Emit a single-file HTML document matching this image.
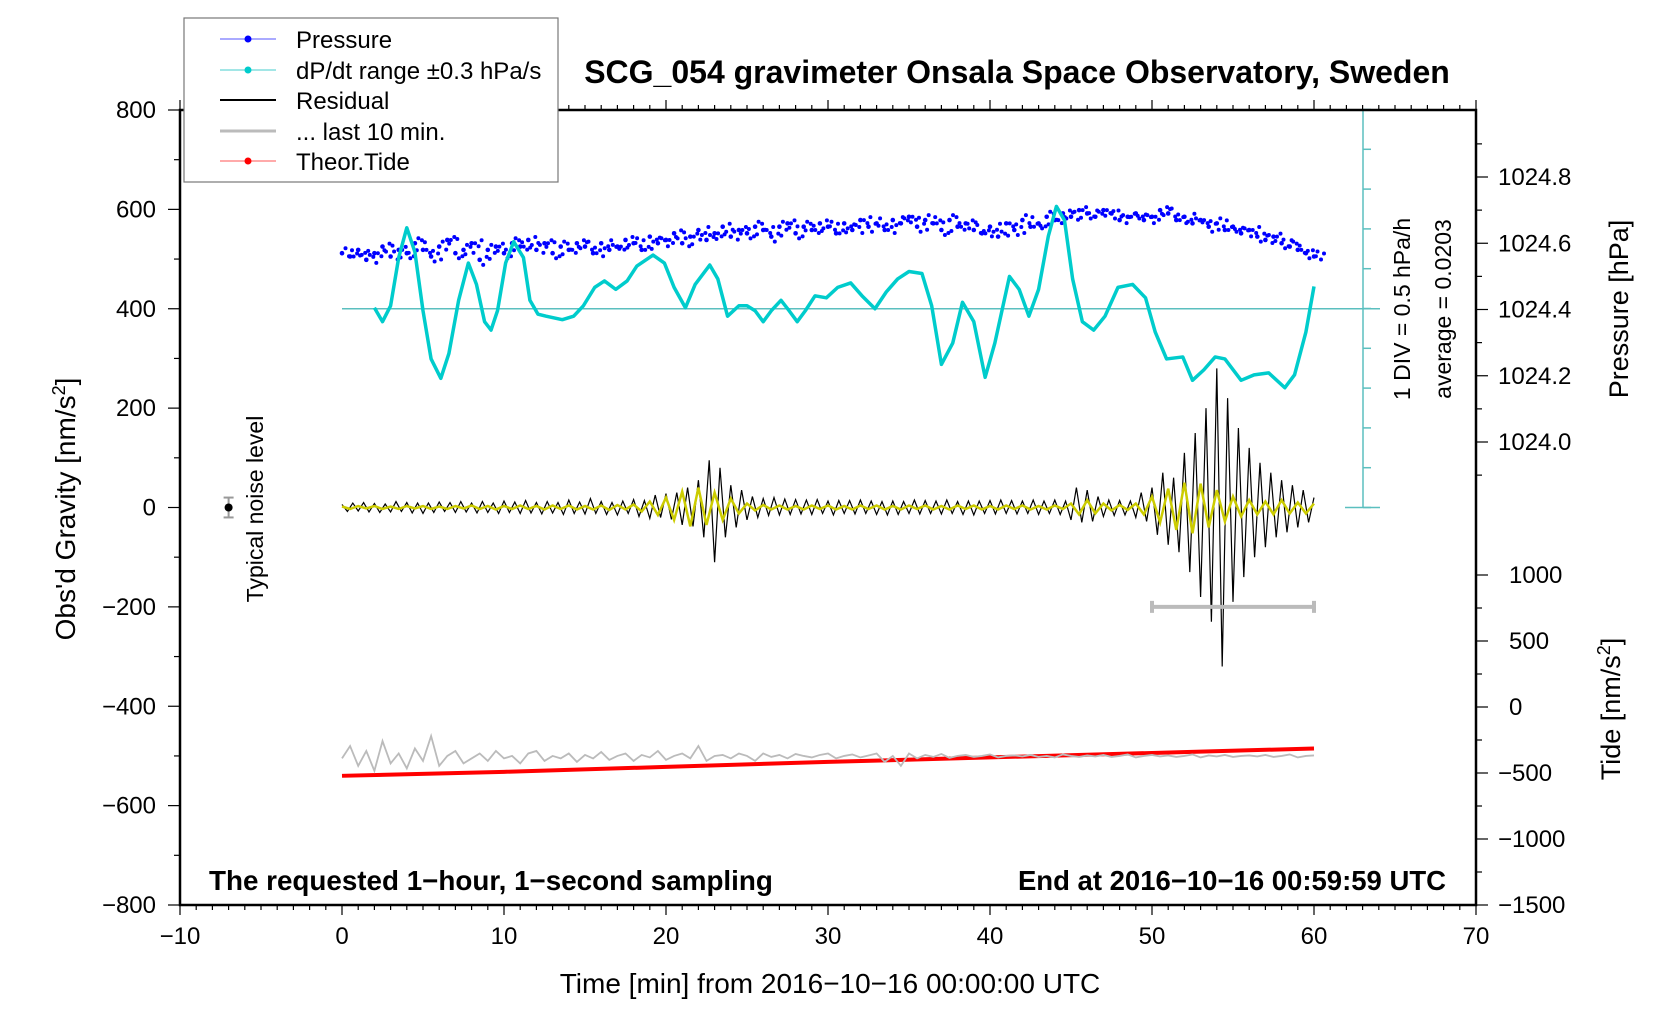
<!DOCTYPE html>
<html><head><meta charset="utf-8">
<style>
html,body{margin:0;padding:0;background:#fff;}
svg{display:block;font-family:"Liberation Sans",sans-serif;}
</style></head>
<body>
<svg id="chart" width="1676" height="1020" viewBox="0 0 1676 1020" xmlns="http://www.w3.org/2000/svg">
<rect x="0" y="0" width="1676" height="1020" fill="#fff"/>
<g id="marks"></g>
<g id="axes"></g>
<text x="1017" y="83" font-size="32" font-weight="bold" text-anchor="middle">SCG_054 gravimeter Onsala Space Observatory, Sweden</text>
<text x="209" y="890" font-size="27.8" font-weight="bold">The requested 1−hour, 1−second sampling</text>
<text x="1446" y="890" font-size="27.5" font-weight="bold" text-anchor="end">End at 2016−10−16 00:59:59 UTC</text>
<text x="830" y="993" font-size="28" text-anchor="middle">Time [min] from 2016−10−16 00:00:00 UTC</text>
<text transform="translate(75,509) rotate(-90)" font-size="28" text-anchor="middle">Obs'd Gravity [nm/s<tspan baseline-shift="super" font-size="18">2</tspan>]</text>
<text transform="translate(1628,309) rotate(-90)" font-size="27" text-anchor="middle">Pressure [hPa]</text>
<text transform="translate(1620,709) rotate(-90)" font-size="27" text-anchor="middle">Tide [nm/s<tspan baseline-shift="super" font-size="18">2</tspan>]</text>
<text transform="translate(1410,309) rotate(-90)" font-size="23" text-anchor="middle">1 DIV = 0.5 hPa/h</text>
<text transform="translate(1451,309) rotate(-90)" font-size="23" text-anchor="middle">average = 0.0203</text>
<text transform="translate(263,509) rotate(-90)" font-size="23" text-anchor="middle">Typical noise level</text>
<g>
<rect x="184" y="18" width="374" height="164" fill="#fff" stroke="#777" stroke-width="1.2"/>
<g><line x1="220" y1="39" x2="276" y2="39" stroke="#55f" stroke-width="1"/><circle cx="248" cy="39" r="3.5" fill="#00f"/><text x="296" y="48" font-size="24">Pressure</text></g>
<g><line x1="220" y1="70" x2="276" y2="70" stroke="#4cc" stroke-width="1"/><circle cx="248" cy="70" r="3.5" fill="#0cc"/><text x="296" y="79" font-size="24">dP/dt range ±0.3 hPa/s</text></g>
<g><line x1="220" y1="100" x2="276" y2="100" stroke="#000" stroke-width="2"/><text x="296" y="109" font-size="24">Residual</text></g>
<g><line x1="220" y1="131" x2="276" y2="131" stroke="#bbb" stroke-width="3"/><text x="296" y="140" font-size="24">... last 10 min.</text></g>
<g><line x1="220" y1="161" x2="276" y2="161" stroke="#f55" stroke-width="1"/><circle cx="248" cy="161" r="3.5" fill="#f00"/><text x="296" y="170" font-size="24">Theor.Tide</text></g>
</g>
</svg>
<script>
// ---- data ----
const xTicks = [-10,0,10,20,30,40,50,60,70];
const yTicks = [800,600,400,200,0,-200,-400,-600,-800];
const pTicks = [1024.0,1024.2,1024.4,1024.6,1024.8];
const tideTicks = [1000,500,0,-500,-1000,-1500];
// dP/dt curve (minutes, nm/s^2 plot units)
const dpTime = [2.0,2.5,3.0,3.5,4.0,4.5,5.0,5.5,6.1,6.6,7.2,7.8,8.3,8.8,9.2,9.6,10.1,10.6,11.2,11.6,12.1,12.6,13.6,14.3,14.9,15.6,16.2,16.9,17.6,18.2,19.2,19.9,20.5,21.2,21.8,22.7,23.2,23.8,24.5,25.0,25.5,26.0,26.5,27.1,27.6,28.1,28.6,29.2,29.9,30.6,31.4,32.1,32.9,33.6,34.3,35.0,35.8,36.4,37.0,37.7,38.3,39.0,39.7,40.3,41.2,41.8,42.4,43.0,43.6,44.1,44.6,45.1,45.7,46.4,47.1,47.9,48.8,49.6,50.2,50.9,51.9,52.5,53.2,53.9,54.5,55.5,56.3,57.2,58.2,58.8,59.5,60.0];
const dpVal = [402,374,406,503,563,514,396,299,260,310,417,492,449,374,357,396,492,535,503,417,389,385,378,385,406,443,456,439,456,486,508,492,443,402,449,488,460,385,406,406,396,374,396,417,396,374,396,426,422,443,452,426,400,434,460,475,471,406,288,331,413,374,262,331,465,439,385,439,546,606,578,460,374,357,385,443,449,422,353,299,303,256,277,303,299,256,267,271,241,267,353,445];
// pressure every 30 s (hPa)
const pressure = [1024.57,1024.56,1024.58,1024.55,1024.57,1024.59,1024.56,1024.58,1024.57,1024.60,1024.58,1024.56,1024.59,1024.61,1024.57,1024.58,1024.60,1024.55,1024.58,1024.59,1024.57,1024.60,1024.59,1024.61,1024.58,1024.60,1024.57,1024.59,1024.58,1024.60,1024.59,1024.57,1024.60,1024.58,1024.59,1024.61,1024.60,1024.58,1024.62,1024.60,1024.61,1024.63,1024.60,1024.62,1024.64,1024.61,1024.63,1024.65,1024.62,1024.64,1024.63,1024.65,1024.64,1024.62,1024.65,1024.66,1024.63,1024.65,1024.64,1024.66,1024.65,1024.63,1024.66,1024.64,1024.67,1024.65,1024.66,1024.64,1024.67,1024.66,1024.68,1024.65,1024.67,1024.66,1024.64,1024.67,1024.65,1024.66,1024.64,1024.63,1024.65,1024.62,1024.66,1024.64,1024.67,1024.65,1024.66,1024.68,1024.67,1024.69,1024.68,1024.70,1024.69,1024.68,1024.70,1024.69,1024.67,1024.68,1024.69,1024.67,1024.68,1024.70,1024.69,1024.67,1024.68,1024.66,1024.67,1024.65,1024.66,1024.64,1024.65,1024.63,1024.64,1024.62,1024.61,1024.62,1024.60,1024.59,1024.58,1024.57,1024.56];
// residual every 20 s (nm/s^2)
const residual = [6,-8,9,-7,10,-9,8,-10,7,-9,12,-8,10,-11,9,-12,9,-10,11,-8,10,-10,12,-9,9,-11,12,-10,9,-12,13,-10,11,-12,14,-11,10,-13,12,-11,10,-14,15,-12,11,-13,18,-12,12,-14,10,-15,13,-12,16,-18,14,-22,25,-20,28,-24,30,-35,40,-38,55,-60,95,-110,80,-60,45,-40,35,-25,22,-20,18,-16,20,-15,17,-14,16,-13,15,-14,16,-12,13,-15,14,-12,14,-13,15,-12,13,-14,12,-15,13,-14,12,-12,15,-13,14,-12,13,-13,15,-12,12,-14,13,-15,13,-12,14,-13,15,-12,14,-13,13,-12,15,-14,13,-12,15,-14,13,-25,40,-30,35,-28,22,-18,15,-16,14,-15,13,-20,30,-28,40,-55,70,-75,60,-90,110,-130,150,-180,200,-230,280,-320,220,-190,160,-140,120,-100,90,-80,70,-60,55,-50,45,-40,35,-30,20];
// smoothed residual every 30 s
const smooth = [2,-3,3,-2,3,-3,2,-3,3,-2,3,-3,2,-3,3,-2,4,-3,3,-4,3,-3,4,-3,3,-4,4,-3,4,-4,3,-4,4,-5,5,-4,6,-8,12,-15,20,-25,32,-38,40,-35,30,-25,18,-12,8,-6,5,-4,4,-4,3,-4,4,-3,4,-4,3,-4,4,-3,4,-4,3,-4,4,-3,4,-4,3,-4,4,-3,4,-4,3,-4,4,-3,4,-4,3,-4,4,-3,8,-14,15,-12,8,-6,5,-5,8,-14,22,-30,38,-45,50,-52,48,-40,35,-28,22,-18,15,-14,12,-14,15,-12,10,-12,8];
// last-10-min residual overlay every 30 s
const last10 = [-505,-480,-520,-490,-530,-470,-515,-495,-525,-485,-510,-460,-520,-500,-490,-515,-505,-495,-510,-490,-505,-500,-515,-495,-490,-510,-500,-505,-495,-512,-498,-505,-492,-508,-500,-495,-510,-498,-503,-490,-508,-500,-495,-505,-480,-510,-500,-498,-505,-495,-500,-510,-495,-502,-498,-505,-496,-500,-503,-498,-495,-505,-500,-497,-503,-499,-495,-512,-500,-520,-495,-505,-498,-502,-496,-504,-500,-498,-502,-500,-497,-503,-500,-499,-501,-498,-502,-500,-503,-497,-500,-502,-499,-501,-498,-502,-500,-497,-503,-500,-498,-501,-499,-502,-500,-497,-503,-499,-501,-498,-502,-500,-499,-501,-498,-502,-500,-497,-503,-500,-499];
const tideTime = [0,10,20,30,40,50,60];
const tideVal = [-540,-532,-522,-512,-503,-494,-485];
const noiseLevel = 20;
const last10Bar = [50,60,-200];

// ---- scales ----
const X0=180, X1=1476, Y0=110, Y1=905;
const sx = m => X0 + (m+10)/80*(X1-X0);
const sy = v => Y0 + (800-v)/1600*(Y1-Y0);
const sp = p => 442 - (p-1024.0)/0.8*(442-177);
const st = t => 905 - (t+1500)/2500*(905-575);
const NS='http://www.w3.org/2000/svg';
function mk(tag, attrs, parent){const e=document.createElementNS(NS,tag);for(const k in attrs)e.setAttribute(k,attrs[k]);parent.appendChild(e);return e;}
const marks=document.getElementById('marks'), axes=document.getElementById('axes');
const CX=1363;

// dP/dt reference structure
let g;
g=mk('g',{},marks);


mk('line',{x1:sx(0),y1:sy(400),x2:CX+17,y2:sy(400),stroke:'#5bbfbf','stroke-width':1.5},g);
mk('line',{x1:CX,y1:Y0,x2:CX,y2:sy(0),stroke:'#5bbfbf','stroke-width':1.5},g);
mk('line',{x1:CX-18,y1:sy(0),x2:CX+17,y2:sy(0),stroke:'#5bbfbf','stroke-width':1.5},g);
for(let v=0;v<=10;v++){const y=sy(0)-v*39.8;mk('line',{x1:CX,y1:y,x2:CX+8,y2:y,stroke:'#5bbfbf','stroke-width':1.5},g);}

// tide
let d=tideTime.map((t,i)=>(i?'L':'M')+sx(t)+','+sy(tideVal[i])).join('');
let p=mk('path',{d:d,fill:'none',stroke:'#f00','stroke-width':4},marks);



// last10 gray line
d=last10.map((v,i)=>(i?'L':'M')+sx(i*0.5)+','+sy(v)).join('');
p=mk('path',{d:d,fill:'none',stroke:'#bbb','stroke-width':1.8},marks);



// pressure dots
g=mk('g',{fill:'#00f'},marks);


pressure.forEach((v,i)=>{
  const x=sx(i*0.5), y=sp(v);
  mk('circle',{cx:x,cy:y,r:2.3},g);
  mk('circle',{cx:x+3.5,cy:y+((i%3)-1)*5,r:2},g);
  mk('circle',{cx:x+7,cy:y-((i%2)*2-1)*3,r:2},g);
  mk('circle',{cx:x+10,cy:y+((i%4)-1.5)*2,r:2},g);
});

// dP/dt curve
d=dpTime.map((t,i)=>(i?'L':'M')+sx(t)+','+sy(dpVal[i])).join('');
p=mk('path',{d:d,fill:'none',stroke:'#0cc','stroke-width':3.5,'stroke-linejoin':'round'},marks);



// residual
d=residual.map((v,i)=>(i?'L':'M')+sx(i/3)+','+sy(v)).join('');
p=mk('path',{d:d,fill:'none',stroke:'#000','stroke-width':1.2},marks);


d=smooth.map((v,i)=>(i?'L':'M')+sx(i*0.5)+','+sy(v)).join('');
p=mk('path',{d:d,fill:'none',stroke:'#cc0','stroke-width':2.5},marks);



// last 10 min bar
g=mk('g',{stroke:'#bbb','stroke-width':4},marks);


mk('line',{x1:sx(last10Bar[0]),y1:sy(last10Bar[2]),x2:sx(last10Bar[1]),y2:sy(last10Bar[2])},g);
mk('line',{x1:sx(last10Bar[0]),y1:sy(last10Bar[2])-6,x2:sx(last10Bar[0]),y2:sy(last10Bar[2])+6},g);
mk('line',{x1:sx(last10Bar[1]),y1:sy(last10Bar[2])-6,x2:sx(last10Bar[1]),y2:sy(last10Bar[2])+6},g);

// noise error bar
g=mk('g',{},marks);


mk('line',{x1:sx(-7),y1:sy(noiseLevel),x2:sx(-7),y2:sy(-noiseLevel),stroke:'#999','stroke-width':2},g);
mk('line',{x1:sx(-7)-5,y1:sy(noiseLevel),x2:sx(-7)+5,y2:sy(noiseLevel),stroke:'#999','stroke-width':2},g);
mk('line',{x1:sx(-7)-5,y1:sy(-noiseLevel),x2:sx(-7)+5,y2:sy(-noiseLevel),stroke:'#999','stroke-width':2},g);
mk('circle',{cx:sx(-7),cy:sy(0),r:4,fill:'#000'},g);

// frame
let fr=mk('rect',{x:X0,y:Y0,width:X1-X0,height:Y1-Y0,fill:'none',stroke:'#000','stroke-width':2.5},axes);



// x ticks
for(let m=-10;m<=70;m++){const big=m%10===0;const x=sx(m);
 mk('line',{x1:x,y1:Y1,x2:x,y2:Y1+(big?10:5),stroke:'#000','stroke-width':1.2},axes);
 mk('line',{x1:x,y1:Y0,x2:x,y2:Y0-(big?10:5),stroke:'#000','stroke-width':1.2},axes);}
xTicks.forEach(t=>{const e=mk('text',{x:sx(t),y:944,'font-size':24,'text-anchor':'middle'},axes);e.textContent=String(t).replace('-','−');
 
 });
// y ticks
for(let v=-800;v<=800;v+=100){const big=v%200===0;const y=sy(v);
 mk('line',{x1:X0,y1:y,x2:X0-(big?12:6),y2:y,stroke:'#000','stroke-width':1.2},axes);}
yTicks.forEach(v=>{const e=mk('text',{x:X0-24,y:sy(v)+8,'font-size':24,'text-anchor':'end'},axes);e.textContent=String(v).replace('-','−');
 
 });
// pressure ticks
for(let k=-1;k<=9;k++){const pv=1024.0+k*0.1;const y=sp(pv);if(y<Y0)continue;const big=k%2===0;
 mk('line',{x1:X1,y1:y,x2:X1+(big?12:6),y2:y,stroke:'#000','stroke-width':1.2},axes);}
pTicks.forEach(v=>{const e=mk('text',{x:X1+22,y:sp(v)+8,'font-size':24},axes);e.textContent=v.toFixed(1);
 
 });
// tide ticks
for(let t=-1500;t<=1000;t+=250){const y=st(t);const big=t%500===0;
 mk('line',{x1:X1,y1:y,x2:X1+(big?12:6),y2:y,stroke:'#000','stroke-width':1.2},axes);}
tideTicks.forEach(v=>{const e=mk('text',{x:X1+(v<0?22:33),y:st(v)+8,'font-size':24},axes);e.textContent=String(v).replace('-','−');
 
 });
</script>
</body></html>
